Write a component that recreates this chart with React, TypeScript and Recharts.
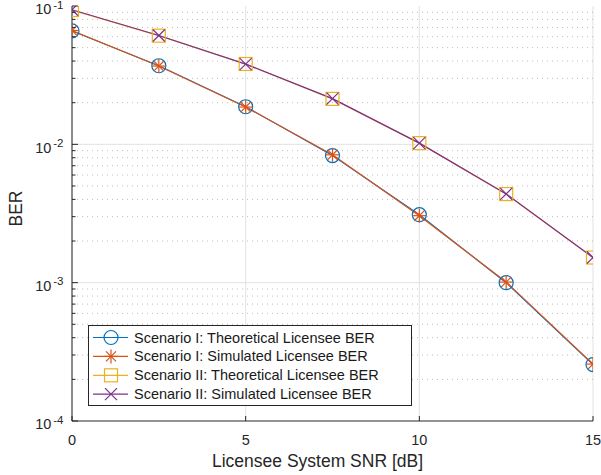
import React from "react";
import {
  LineChart,
  Line,
  XAxis,
  YAxis,
  CartesianGrid,
  ReferenceLine,
  Legend,
} from "recharts";

// Licensee SNR [dB]
const snr = [0, 2.5, 5, 7.5, 10, 12.5, 15];
const s1Theory = [0.066, 0.037, 0.0187, 0.0083, 0.0031, 0.001, 0.000256];
const s1Sim = [0.0665, 0.0368, 0.0186, 0.0084, 0.00305, 0.00101, 0.000258];
const s2Theory = [0.0935, 0.061, 0.0381, 0.0213, 0.0102, 0.00437, 0.00152];
const s2Sim = [0.094, 0.0612, 0.038, 0.0214, 0.0102, 0.00438, 0.00152];

const xTicks = [0, 5, 10, 15];
const yMajor = [1e-4, 1e-3, 1e-2, 1e-1];
const yMinor = [1e-4, 1e-3, 1e-2].flatMap((d) =>
  [2, 3, 4, 5, 6, 7, 8, 9].map((m) => m * d)
);
const yTicks = [...yMajor, ...yMinor].sort((a, b) => a - b);

const seriesNames = [
  "Scenario I: Theoretical Licensee BER",
  "Scenario I: Simulated Licensee BER",
  "Scenario II: Theoretical Licensee BER",
  "Scenario II: Simulated Licensee BER",
];
const seriesKeys = ["s1t", "s1s", "s2t", "s2s"];
const seriesColors = ["#0072BD", "#D95319", "#EDB120", "#7E2F8E"];

const data = snr.map((x, i) => ({
  snr: x,
  s1t: s1Theory[i],
  s1s: s1Sim[i],
  s2t: s2Theory[i],
  s2s: s2Sim[i],
}));

const FONT = '"Liberation Sans", Arial, Helvetica, sans-serif';
const AXIS = "#262626";
const GRID = "#e2e2e2";
const MINOR = "#bdbdbd";

const isMajor = (v: number) => {
  const l = Math.log10(v);
  return Math.abs(l - Math.round(l)) < 1e-9;
};

// markers
const Marker = ({ kind, cx, cy, color }: any) => {
  if (kind === 0)
    return <circle cx={cx} cy={cy} r={7} fill="none" stroke={color} strokeWidth={1.2} />;
  if (kind === 1) {
    const r = 7;
    const d = r * 0.72;
    return (
      <g stroke={color} strokeWidth={1.2}>
        <line x1={cx - r} x2={cx + r} y1={cy} y2={cy} />
        <line x1={cx} x2={cx} y1={cy - r} y2={cy + r} />
        <line x1={cx - d} x2={cx + d} y1={cy - d} y2={cy + d} />
        <line x1={cx - d} x2={cx + d} y1={cy + d} y2={cy - d} />
      </g>
    );
  }
  if (kind === 2)
    return (
      <rect x={cx - 6.5} y={cy - 6.5} width={13} height={13} fill="none" stroke={color} strokeWidth={1.2} />
    );
  const h = 6;
  return (
    <g stroke={color} strokeWidth={1.2}>
      <line x1={cx - h} x2={cx + h} y1={cy - h} y2={cy + h} />
      <line x1={cx - h} x2={cx + h} y1={cy + h} y2={cy - h} />
    </g>
  );
};

const LeftTick = (props: any) => {
  const { x, y, payload } = props;
  const v = payload.value;
  const major = isMajor(v);
  return (
    <g>
      <line x1={x} x2={x + (major ? 6 : 3.5)} y1={y} y2={y} stroke={AXIS} />
      {major && (
        <text x={x - 8.5} y={y + 8.3} textAnchor="end" fontFamily={FONT} fontSize={14.5} fill={AXIS}>
          <tspan>10</tspan>
          <tspan dx={2} dy={-5.5} fontSize={11.5}>{Math.round(Math.log10(v))}</tspan>
        </text>
      )}
    </g>
  );
};

const RightTick = (props: any) => {
  const { x, y, payload } = props;
  const major = isMajor(payload.value);
  return <line x1={x} x2={x - (major ? 6 : 3.5)} y1={y} y2={y} stroke={AXIS} />;
};

const BottomTick = (props: any) => {
  const { x, y, payload } = props;
  return (
    <g>
      <line x1={x} x2={x} y1={y} y2={y - 5} stroke={AXIS} />
      <text x={x} y={y + 23.5} textAnchor="middle" fontFamily={FONT} fontSize={14.5} fill={AXIS}>
        {payload.value}
      </text>
    </g>
  );
};

const TopTick = (props: any) => {
  const { x, y } = props;
  return <line x1={x} x2={x} y1={y} y2={y + 5} stroke={AXIS} />;
};

const XLabel = (props: any) => {
  const vb = props.viewBox;
  return (
    <text x={vb.x + vb.width / 2 - 15} y={vb.y + 46} textAnchor="middle" fontFamily={FONT} fontSize={17.5} fill={AXIS}>
      Licensee System SNR [dB]
    </text>
  );
};

const YLabel = (props: any) => {
  const vb = props.viewBox;
  const cy = vb.y + vb.height / 2 - 5;
  return (
    <text
      x={21.5}
      y={cy}
      transform={`rotate(-90 21.5 ${cy})`}
      textAnchor="middle"
      fontFamily={FONT}
      fontSize={17.5}
      fill={AXIS}
    >
      BER
    </text>
  );
};

const LegendBox = () => (
  <div
    style={{
      width: 324,
      height: 81,
      boxSizing: "border-box",
      border: `1px solid ${AXIS}`,
      background: "#fff",
    }}
  >
    <svg width={322} height={79} style={{ display: "block" }}>
      {seriesNames.map((name, i) => {
        const cy = 11.5 + i * 18.9;
        return (
          <g key={name}>
            <line x1={4} x2={39} y1={cy} y2={cy} stroke={seriesColors[i]} strokeWidth={1.2} />
            <Marker kind={i} cx={22} cy={cy} color={seriesColors[i]} />
            <text x={45} y={cy + 5} fontFamily={FONT} fontSize={14.5} fill="#1a1a1a">
              {name}
            </text>
          </g>
        );
      })}
    </svg>
  </div>
);

export default function App() {
  return (
    <div style={{ position: "absolute", left: 0, top: 0, background: "#fff" }}>
      <LineChart
        width={601}
        height={475}
        data={data}
        margin={{ top: 6, right: 8, bottom: 0, left: 0 }}
      >
        <CartesianGrid horizontal={false} stroke={GRID} />
        {yTicks
          .filter((v) => v > 1e-4 && v < 1e-1)
          .map((v) => (
            <ReferenceLine
              key={v}
              y={v}
              stroke={isMajor(v) ? GRID : MINOR}
              strokeDasharray={isMajor(v) ? undefined : "1 4"}
            />
          ))}
        <XAxis
          dataKey="snr"
          type="number"
          domain={[0, 15]}
          ticks={xTicks}
          allowDataOverflow
          interval={0}
          height={54}
          tickSize={0}
          tickMargin={0}
          tickLine={false}
          tick={<BottomTick />}
          axisLine={{ stroke: AXIS }}
          label={<XLabel />}
        />
        <XAxis
          xAxisId="top"
          orientation="top"
          type="number"
          domain={[0, 15]}
          ticks={xTicks}
          allowDataOverflow
          interval={0}
          height={0}
          tickSize={0}
          tickMargin={0}
          tickLine={false}
          tick={<TopTick />}
          axisLine={{ stroke: AXIS }}
        />
        <YAxis
          scale="log"
          domain={[1e-4, 1e-1]}
          ticks={yTicks}
          allowDataOverflow
          interval={0}
          width={72}
          tickSize={0}
          tickMargin={0}
          tickLine={false}
          tick={<LeftTick />}
          axisLine={{ stroke: AXIS }}
          label={<YLabel />}
        />
        <YAxis
          yAxisId="right"
          orientation="right"
          scale="log"
          domain={[1e-4, 1e-1]}
          ticks={yTicks}
          allowDataOverflow
          interval={0}
          width={0}
          tickSize={0}
          tickMargin={0}
          tickLine={false}
          tick={<RightTick />}
          axisLine={{ stroke: AXIS }}
        />
        {seriesKeys.map((k, i) => (
          <Line
            key={k}
            dataKey={k}
            name={seriesNames[i]}
            stroke={seriesColors[i]}
            strokeWidth={1.2}
            isAnimationActive={false}
            dot={(p: any) => (
              <Marker key={`${k}-${p.index}`} kind={i} cx={p.cx} cy={p.cy} color={seriesColors[i]} />
            )}
            activeDot={false}
          />
        ))}
        <Legend
          layout="vertical"
          align="center"
          verticalAlign="middle"
          content={<LegendBox />}
          wrapperStyle={{ position: "absolute", left: 88, top: 325, width: 324, height: 81 }}
        />
      </LineChart>
    </div>
  );
}
